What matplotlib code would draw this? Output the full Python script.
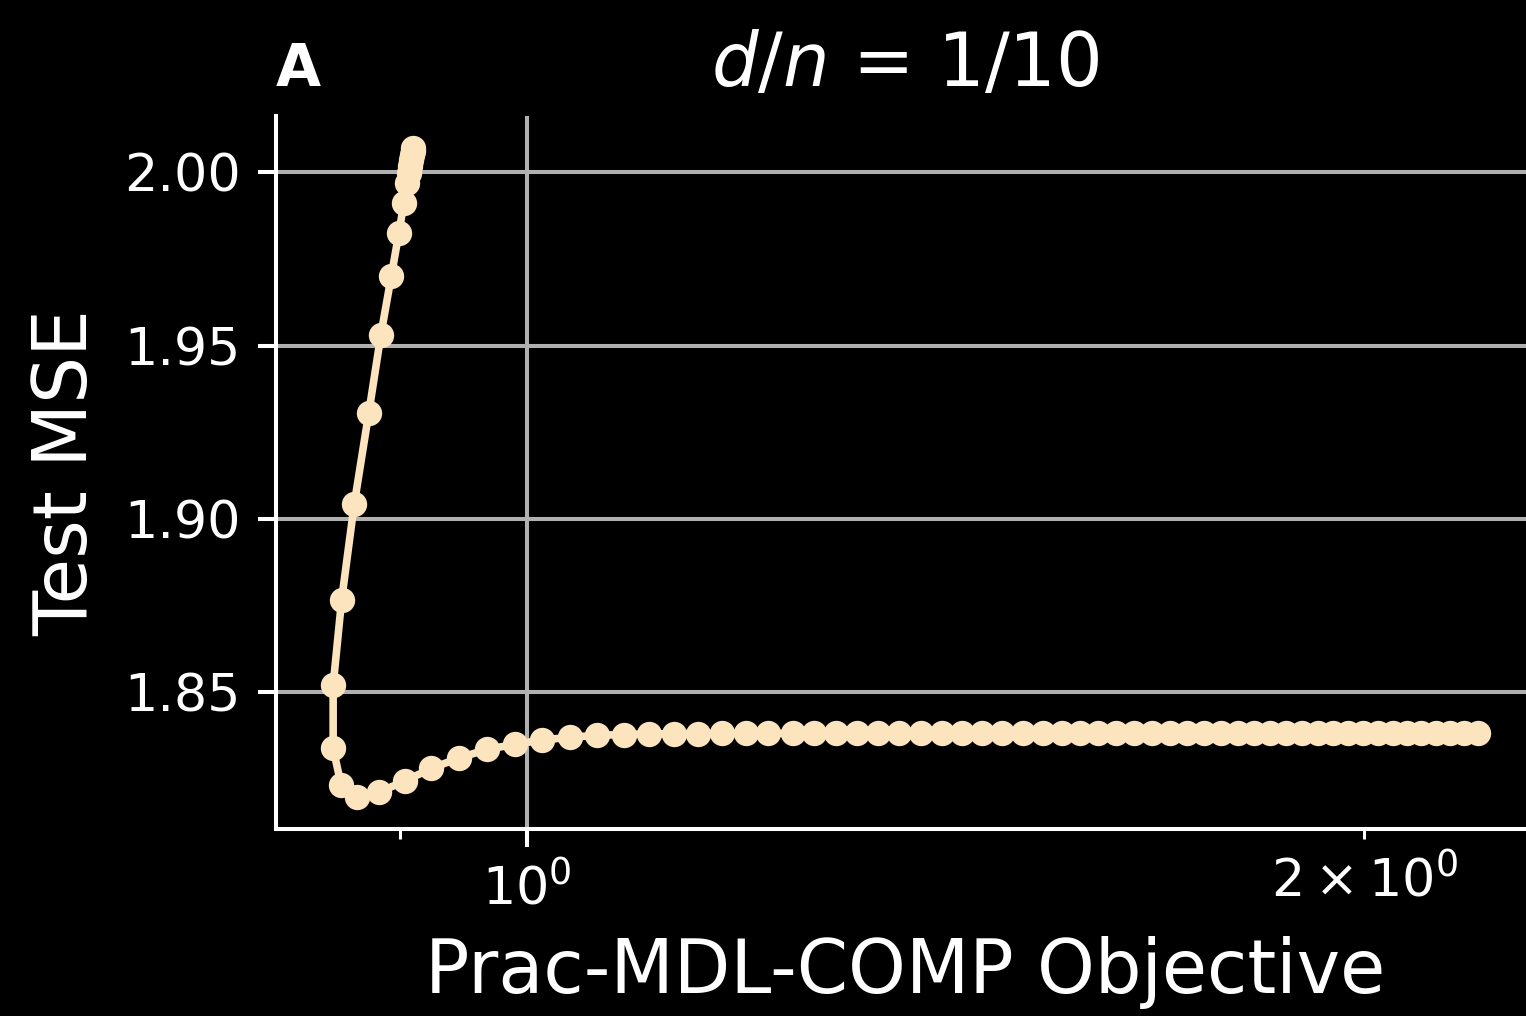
import matplotlib
matplotlib.use("Agg")
import matplotlib.pyplot as plt

# objective value vs. test error along the regularization path (d/n = 1/10)
objective = [
    0.9096, 0.9096, 0.9088, 0.9081, 0.9073, 0.9066, 0.9051, 0.9028, 0.8991,
    0.8935, 0.8858, 0.8770, 0.8665, 0.8575, 0.8515, 0.8515, 0.8571, 0.8686,
    0.8843, 0.9036, 0.9237, 0.9451, 0.9675, 0.9901, 1.0125, 1.0360, 1.0595,
    1.0835, 1.1063, 1.1290, 1.1516, 1.1749, 1.1985, 1.2208, 1.2462, 1.2681,
    1.2915, 1.3142, 1.3374, 1.3609, 1.3849, 1.4093, 1.4329, 1.4569, 1.4813,
    1.5074, 1.5326, 1.5570, 1.5805, 1.6044, 1.6286, 1.6531, 1.6780, 1.7019,
    1.7262, 1.7507, 1.7756, 1.8009, 1.8250, 1.8495, 1.8742, 1.8993, 1.9247,
    1.9489, 1.9733, 1.9980, 2.0231, 2.0485, 2.0724, 2.0967, 2.1213, 2.1461,
    2.1712, 2.1966,
]
test_mse = [
    2.00691, 2.00604, 2.00489, 2.00345, 2.00173, 1.99971, 1.99683, 1.99108,
    1.98244, 1.97006, 1.95308, 1.93063, 1.90429, 1.87665, 1.85204, 1.83376,
    1.82326, 1.81989, 1.82110, 1.82441, 1.82801, 1.83103, 1.83353, 1.83497,
    1.83621, 1.83699, 1.83756, 1.83779, 1.83794, 1.83800, 1.83805, 1.83808,
    1.83811, 1.83811, 1.83812, 1.83812, 1.83812, 1.83812, 1.83812, 1.83812,
    1.83812, 1.83812, 1.83812, 1.83812, 1.83812, 1.83812, 1.83812, 1.83812,
    1.83812, 1.83812, 1.83812, 1.83812, 1.83812, 1.83812, 1.83812, 1.83812,
    1.83812, 1.83812, 1.83812, 1.83812, 1.83812, 1.83812, 1.83812, 1.83812,
    1.83812, 1.83812, 1.83812, 1.83812, 1.83812, 1.83812, 1.83812, 1.83812,
    1.83812, 1.83812,
]
y_ticks = [1.85, 1.90, 1.95, 2.00]

plt.rcParams.update({
    "figure.facecolor": "black",
    "axes.facecolor": "black",
    "axes.edgecolor": "white",
    "axes.labelcolor": "white",
    "text.color": "white",
    "xtick.color": "white",
    "ytick.color": "white",
    "xtick.labelsize": 10.3,
    "ytick.labelsize": 10.3,
    "grid.color": "#b0b0b0",
    "font.family": "DejaVu Sans",
})

dpi = 365
fig = plt.figure(figsize=(1527 / dpi, 1016 / dpi), dpi=dpi)
ax = fig.add_axes([0.1807, 0.1841, 0.8245, 0.7018])

ax.plot(objective, test_mse, "-o", color="#fce4bf", lw=1.5, markersize=4)
ax.set_xscale("log")
ax.set_yticks(y_ticks)
ax.grid(True)
ax.set_axisbelow(True)

for side in ["top", "right"]:
    ax.spines[side].set_visible(False)

ax.set_xlabel("Prac-MDL-COMP Objective", fontsize=14.5)
ax.set_ylabel("Test MSE", fontsize=14.6)
ax.set_title("$d/n$ = 1/10", fontsize=14.5)
ax.set_title("A", loc="left", fontweight="bold", fontsize=11.5)

fig.savefig("out.png", dpi=dpi, facecolor="black")
